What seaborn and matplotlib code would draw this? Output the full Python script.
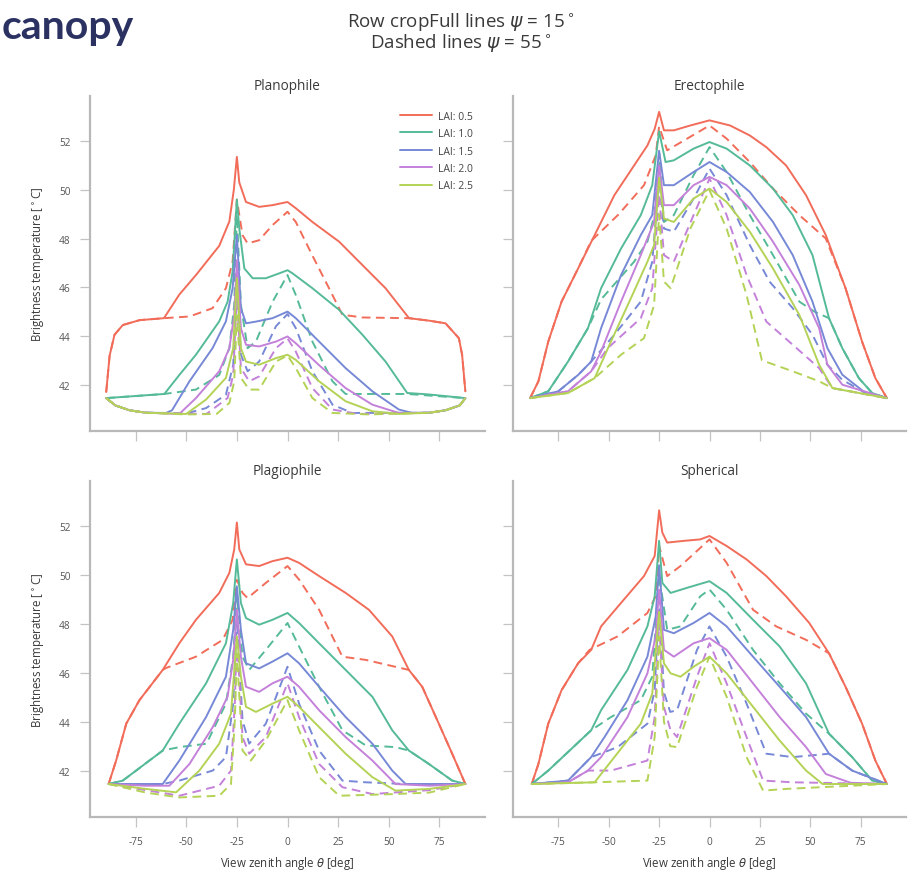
import matplotlib
matplotlib.use("Agg")
import matplotlib.pyplot as plt
from matplotlib.lines import Line2D
import pandas as pd
import seaborn as sns

# ---------------------------------------------------------------------------
# Labels and styling inputs
# ---------------------------------------------------------------------------
LAI_LEVELS = ["0.5", "1.0", "1.5", "2.0", "2.5"]
LAI_COLORS = ["#f26c5a", "#55ba98", "#7789d6", "#c481da", "#b4d356"]
PANEL_TITLES = ["Planophile", "Erectophile", "Plagiophile", "Spherical"]
X_TICKS = [-75, -50, -25, 0, 25, 50, 75]
Y_TICKS = [42, 44, 46, 48, 50, 52]

# ---------------------------------------------------------------------------
# Brightness temperature profiles: (view zenith angle [deg], temperature [°C])
# "full" = row azimuth psi 15°, "dash" = psi 55°
# ---------------------------------------------------------------------------
# Planophile
plano_full_05 = [(-89.5, 41.7), (-87.8, 43.2), (-85.4, 44.05), (-81.3, 44.45), (-73, 44.65), (-61, 44.73),
                 (-53.4, 45.7), (-45.2, 46.5), (-33.7, 47.7), (-28.7, 48.7), (-26.5, 50.0), (-25, 51.35),
                 (-23.8, 50.3), (-20.5, 49.5), (-14, 49.3), (-7.4, 49.37), (0, 49.5), (4, 49.25), (12.3, 48.68),
                 (25.5, 47.87), (37, 46.91), (48.4, 45.96), (60, 44.73), (69.8, 44.63), (78, 44.52),
                 (84.6, 43.91), (86.2, 43.23), (87.8, 41.73)]
plano_dash_05 = [(-89.5, 41.7), (-87.8, 43.2), (-85.4, 44.05), (-81.3, 44.45), (-73, 44.65), (-61, 44.73),
                 (-48.4, 44.8), (-37, 45.14), (-30.4, 45.96), (-27.1, 47.05), (-25, 49.6), (-22.2, 48.14),
                 (-19.7, 47.8), (-14, 47.93), (-7.4, 48.55), (0, 49.1), (4.1, 48.68), (12.3, 47.3),
                 (20.5, 45.96), (27.1, 44.87), (37, 44.76), (60, 44.73), (69.8, 44.63), (78, 44.52),
                 (84.6, 43.91), (86.2, 43.23), (87.8, 41.73)]
plano_full_10 = [(-89.5, 41.45), (-60.8, 41.62), (-53.4, 42.4), (-45.2, 43.23), (-33.7, 44.6), (-29.6, 45.4),
                 (-27.1, 46.64), (-25, 49.6), (-23.8, 48.41), (-21.3, 46.77), (-17.2, 46.37), (-10.7, 46.37),
                 (-4.1, 46.57), (0, 46.7), (2.5, 46.57), (12.3, 45.96), (25.5, 45.07), (37, 44.05),
                 (48.4, 42.95), (59.1, 41.66), (69.8, 41.6), (87.8, 41.45)]
plano_dash_10 = [(-89.5, 41.45), (-60.8, 41.62), (-45.2, 41.8), (-33.7, 42.4), (-28.7, 43.5), (-26.3, 45.27),
                 (-25, 48.96), (-23, 45.27), (-19.7, 43.5), (-15.6, 43.77), (-7.4, 45.4), (0, 46.5),
                 (4.1, 45.68), (12.3, 43.77), (22.2, 42.14), (28.7, 41.62), (59.1, 41.62), (87.8, 41.45)]
plano_full_15 = [(-89.5, 41.45), (-85, 41.15), (-78, 40.95), (-70, 40.85), (-60, 40.84), (-57, 40.95),
                 (-48.4, 42.14), (-37, 43.5), (-30.4, 44.6), (-27.1, 45.96), (-25, 48.14), (-23, 45.14),
                 (-20.5, 44.52), (-15.6, 44.59), (-7.4, 44.73), (0, 45.0), (4.1, 44.73), (15.6, 43.77),
                 (28.7, 42.68), (41.9, 41.73), (55, 40.98), (61.6, 40.84), (70, 40.85), (78, 40.95),
                 (85, 41.15), (87.8, 41.45)]
plano_dash_15 = [(-89.5, 41.45), (-85, 41.15), (-78, 40.95), (-70, 40.85), (-50, 40.82), (-40.2, 41.04),
                 (-30.4, 41.59), (-26.8, 42.82), (-25, 46.5), (-23, 43.23), (-19.7, 42.55), (-14, 42.95),
                 (-5.7, 44.4), (0, 44.9), (4.1, 44.32), (12.3, 42.55), (22.2, 41.18), (32, 40.84),
                 (70, 40.85), (78, 40.95), (85, 41.15), (87.8, 41.45)]
plano_full_20 = [(-89.5, 41.45), (-85, 41.15), (-78, 40.95), (-70, 40.85), (-53.4, 40.8), (-45.2, 41.45),
                 (-33.7, 42.55), (-28.7, 43.5), (-26.3, 44.86), (-25, 47.1), (-23, 44.32), (-20.5, 43.64),
                 (-14, 43.57), (-5.7, 43.77), (0, 43.98), (4.1, 43.7), (15.6, 42.8), (28.7, 41.86),
                 (41.9, 41.18), (55, 40.84), (70, 40.85), (78, 40.95), (85, 41.15), (87.8, 41.45)]
plano_dash_20 = [(-89.5, 41.45), (-85, 41.15), (-78, 40.95), (-70, 40.85), (-40, 40.8), (-29.6, 41.45),
                 (-26.8, 42.4), (-25, 45.7), (-23, 42.68), (-18.9, 42.14), (-14, 42.34), (-5.7, 43.5),
                 (0, 43.9), (4.1, 43.36), (12.3, 41.86), (22.2, 40.98), (35, 40.8), (70, 40.85),
                 (78, 40.95), (85, 41.15), (87.8, 41.45)]
plano_full_25 = [(-89.5, 41.45), (-85, 41.15), (-78, 40.95), (-70, 40.85), (-50, 40.8), (-40.2, 41.39),
                 (-30.4, 42.28), (-26.8, 43.5), (-25, 46.37), (-23, 43.5), (-20.5, 42.95), (-14, 42.82),
                 (-5.7, 43.09), (0, 43.23), (4.1, 43.02), (15.6, 42.14), (28.7, 41.32), (41.9, 40.91),
                 (55, 40.8), (70, 40.85), (78, 40.95), (85, 41.15), (87.8, 41.45)]
plano_dash_25 = [(-89.5, 41.45), (-85, 41.15), (-78, 40.95), (-70, 40.85), (-50, 40.78), (-35, 40.8),
                 (-28.7, 41.25), (-26.3, 42.14), (-25, 44.86), (-23, 42.28), (-18.9, 41.8), (-14, 41.8),
                 (-5.7, 42.95), (0, 43.2), (4.1, 42.68), (12.3, 41.45), (22.2, 40.84), (40, 40.78),
                 (70, 40.85), (78, 40.95), (85, 41.15), (87.8, 41.45)]

# Erectophile
erect_full_05 = [(-89, 41.45), (-84.9, 42.14), (-80, 43.77), (-73.4, 45.41), (-65.2, 46.77), (-57, 48.14),
                 (-47.2, 49.78), (-37.4, 51.0), (-30.8, 51.82), (-27.2, 52.5), (-25, 53.2), (-22.6, 52.44),
                 (-17.7, 52.44), (-9.5, 52.64), (0, 52.85), (10.2, 52.64), (20, 52.23), (28.2, 51.75),
                 (38, 51.0), (47.9, 49.78), (57.7, 48.14), (67.5, 45.96), (75.7, 43.77), (82.3, 42.27),
                 (88, 41.45)]
erect_dash_05 = [(-89, 41.45), (-84.9, 42.14), (-80, 43.77), (-73.4, 45.41), (-65.2, 46.77), (-58.7, 47.9),
                 (-45, 49.0), (-32.5, 50.19), (-26.7, 51.41), (-25, 52.6), (-21, 51.62), (-11.1, 52.1),
                 (0, 52.64), (8.5, 52.1), (20, 51.14), (31.5, 50.05), (44.6, 48.96), (57.7, 48.0),
                 (67.5, 45.96), (75.7, 43.77), (82.3, 42.27), (88, 41.45)]
erect_full_10 = [(-89, 41.45), (-80, 41.73), (-70.2, 42.95), (-60.3, 44.32), (-53.8, 45.96), (-43.9, 47.59),
                 (-34.1, 48.96), (-28.4, 50.19), (-25, 52.4), (-21.8, 51.14), (-17.7, 51.21), (-7.9, 51.69),
                 (0, 51.96), (8.5, 51.69), (20, 51.0), (31.5, 50.05), (41.3, 48.96), (51.1, 47.32),
                 (59.3, 44.73), (65.9, 43.5), (74.1, 42.27), (80.7, 41.66), (88, 41.45)]
erect_dash_10 = [(-89, 41.45), (-80, 41.73), (-70.2, 42.95), (-60.3, 44.32), (-53.8, 45.5), (-37.4, 47.05),
                 (-30.8, 47.87), (-27.2, 49.0), (-25, 51.5), (-22.6, 48.68), (-17.7, 48.96), (-7.9, 50.6),
                 (0, 51.75), (8.5, 50.73), (20, 48.96), (31.5, 47.32), (44.6, 45.41), (52, 45.0),
                 (59.3, 44.73), (65.9, 43.5), (74.1, 42.27), (80.7, 41.66), (88, 41.45)]
erect_full_15 = [(-89, 41.45), (-75, 41.73), (-65.2, 42.4), (-58.7, 42.95), (-53.8, 44.32), (-43.9, 46.5),
                 (-34.1, 48.14), (-28.4, 48.96), (-25, 51.6), (-22.6, 50.19), (-17.7, 50.19), (-7.9, 50.73),
                 (0, 51.14), (8.5, 50.73), (20, 49.91), (31.5, 48.68), (41.3, 47.32), (51.1, 45.41),
                 (58.5, 43.5), (65.9, 42.41), (77.4, 41.66), (88, 41.45)]
erect_dash_15 = [(-89, 41.45), (-75, 41.73), (-65.2, 42.4), (-58.7, 42.95), (-47.2, 44.05), (-34.1, 45.41),
                 (-28.4, 47.05), (-25, 50.5), (-22.6, 48.41), (-17.7, 48.28), (-7.9, 49.64), (0, 50.87),
                 (8.5, 49.78), (20, 47.73), (29.8, 46.23), (41.3, 45.14), (51.1, 44.05), (58.5, 42.82),
                 (65.9, 42.2), (77.4, 41.66), (88, 41.45)]
erect_full_20 = [(-89, 41.45), (-70.2, 41.73), (-58.7, 42.55), (-53.8, 43.36), (-43.9, 45.41), (-34.1, 47.32),
                 (-27.5, 48.68), (-25, 51.0), (-22.6, 49.37), (-17.7, 49.37), (-7.9, 50.19), (0, 50.53),
                 (8.5, 50.19), (20, 49.23), (31.5, 47.87), (44.6, 46.09), (54.4, 44.32), (58.5, 42.82),
                 (65.9, 42.0), (88, 41.45)]
erect_dash_20 = [(-89, 41.45), (-70.2, 41.73), (-58.7, 42.55), (-50.5, 43.5), (-34.1, 44.73), (-28.4, 45.96),
                 (-25, 49.8), (-22.6, 47.32), (-17.7, 47.05), (-7.9, 48.96), (0, 50.46), (8.5, 48.96),
                 (18.4, 46.5), (28.2, 44.59), (41.3, 43.64), (54.4, 42.68), (61, 41.86), (88, 41.45)]
erect_full_25 = [(-89, 41.45), (-70.2, 41.66), (-57, 42.27), (-48.9, 43.77), (-39, 45.55), (-30.8, 47.05),
                 (-27.5, 47.73), (-25, 50.5), (-22.6, 48.82), (-17.7, 48.68), (-7.9, 49.64), (0, 50.05),
                 (8.5, 49.5), (20, 48.28), (31.5, 46.77), (44.6, 44.86), (54.4, 42.82), (61, 41.86),
                 (88, 41.45)]
erect_dash_25 = [(-89, 41.45), (-70.2, 41.66), (-57, 42.27), (-43.9, 43.23), (-32.5, 43.91), (-27.5, 45.27),
                 (-25, 49.0), (-22.6, 46.23), (-19.3, 45.96), (-9.5, 48.41), (0, 49.98), (8.5, 48.41),
                 (18.4, 45.68), (26, 43.0), (41.3, 42.55), (54.4, 42.14), (61, 41.86), (88, 41.45)]

# Plagiophile
plagio_full_05 = [(-88.3, 41.45), (-84.6, 42.41), (-79.6, 43.92), (-73.1, 44.88), (-61.6, 46.12),
                  (-53.4, 47.21), (-45.2, 48.17), (-33.7, 49.27), (-28.7, 50.09), (-26.3, 51.05), (-25, 52.15),
                  (-23.8, 51.05), (-20.5, 50.44), (-14, 50.37), (-7.4, 50.57), (0, 50.71), (5.7, 50.5),
                  (15.6, 49.96), (28.7, 49.27), (40.2, 48.58), (51.7, 47.49), (59.9, 46.12), (66.5, 45.43),
                  (74.7, 43.92), (81.3, 42.69), (87.8, 41.45)]
plagio_dash_05 = [(-88.3, 41.45), (-84.6, 42.41), (-79.6, 43.92), (-73.1, 44.88), (-61.6, 46.12),
                  (-59.9, 46.2), (-45.2, 46.66), (-32, 47.35), (-27.1, 48.17), (-25, 49.8), (-22.2, 49.27),
                  (-19.7, 49.06), (-10.7, 49.68), (0, 50.37), (5.7, 49.82), (15.6, 48.58), (27.1, 46.66),
                  (38.6, 46.53), (56.7, 46.18), (59.9, 46.12), (66.5, 45.43), (74.7, 43.92), (81.3, 42.69),
                  (87.8, 41.45)]
plagio_full_10 = [(-88.3, 41.45), (-81.3, 41.59), (-61.6, 42.82), (-53.4, 43.92), (-40.2, 45.57),
                  (-30.4, 47.21), (-26.8, 48.86), (-25, 50.64), (-23, 48.86), (-20.5, 48.24), (-14, 47.97),
                  (-7.4, 48.17), (0, 48.45), (5.7, 48.04), (15.6, 47.21), (28.7, 46.12), (41.9, 45.02),
                  (51.7, 43.65), (59.9, 42.82), (69.8, 42.27), (81.3, 41.59), (87.8, 41.45)]
plagio_dash_10 = [(-88.3, 41.45), (-81.3, 41.59), (-61.6, 42.82), (-53.4, 42.96), (-40, 43.1), (-30.4, 44.74),
                  (-26.8, 46.66), (-25, 49.2), (-22.2, 46.66), (-18.9, 46.12), (-10.7, 46.94), (0, 48.04),
                  (5.7, 47.08), (15.6, 45.43), (27.1, 43.65), (38.6, 43.03), (53.3, 42.96), (59.9, 42.82),
                  (69.8, 42.27), (81.3, 41.59), (87.8, 41.45)]
plagio_full_15 = [(-88.3, 41.45), (-61.6, 41.45), (-53.4, 42.41), (-40.2, 44.19), (-30.4, 45.84),
                  (-26.8, 47.76), (-25, 49.54), (-23, 47.76), (-20.5, 46.39), (-14, 46.18), (-7.4, 46.46),
                  (0, 46.8), (5.7, 46.39), (15.6, 45.43), (28.7, 44.19), (41.9, 43.1), (51.7, 42.0),
                  (58.3, 41.45), (87.8, 41.45)]
plagio_dash_15 = [(-88.3, 41.45), (-61.6, 41.45), (-53.4, 41.59), (-36.9, 42.0), (-30.4, 42.55), (-26.8, 44.74),
                  (-25, 48.2), (-22.2, 44.06), (-18.9, 43.1), (-10.7, 43.92), (0, 46.25), (5.7, 44.74),
                  (15.6, 42.82), (27.1, 41.59), (38.6, 41.52), (58.3, 41.45), (87.8, 41.45)]
plagio_full_20 = [(-88.3, 41.45), (-70, 41.38), (-58.3, 41.38), (-48.4, 42.27), (-36.9, 43.78), (-29.6, 45.02),
                  (-26.8, 46.53), (-25, 48.58), (-23, 46.66), (-20.5, 45.43), (-14, 45.22), (-7.4, 45.57),
                  (0, 45.84), (5.7, 45.43), (15.6, 44.47), (28.7, 43.37), (41.9, 42.41), (53.3, 41.45),
                  (70, 41.38), (87.8, 41.45)]
plagio_dash_20 = [(-88.3, 41.45), (-70, 41.2), (-53.4, 40.97), (-33.7, 41.38), (-27.9, 42.0), (-26, 44.74),
                  (-25, 47.5), (-22.2, 43.37), (-18.9, 42.69), (-10.7, 43.37), (0, 45.57), (5.7, 44.19),
                  (15.6, 42.27), (27.1, 41.32), (41.9, 41.04), (70, 41.2), (87.8, 41.45)]
plagio_full_25 = [(-88.3, 41.45), (-70, 41.25), (-55, 41.11), (-43.5, 42.0), (-33.7, 43.1), (-27.9, 44.33),
                  (-25, 47.5), (-23, 45.84), (-20.5, 44.61), (-15.6, 44.4), (-7.4, 44.74), (0, 45.02),
                  (5.7, 44.61), (15.6, 43.78), (28.7, 42.69), (41.9, 41.73), (53.3, 41.18), (70, 41.25),
                  (87.8, 41.45)]
plagio_dash_25 = [(-88.3, 41.45), (-70, 41.1), (-53.4, 40.9), (-33.7, 40.97), (-27.9, 41.45), (-26, 44.06),
                  (-25, 46.8), (-22.2, 42.82), (-18.1, 42.41), (-10.7, 43.23), (0, 44.88), (5.7, 43.65),
                  (15.6, 41.73), (25.5, 40.97), (53.3, 41.04), (70, 41.1), (87.8, 41.45)]

# Spherical
sph_full_05 = [(-88.2, 41.45), (-84.9, 42.27), (-80, 43.92), (-73.4, 45.29), (-65.2, 46.39), (-58.7, 46.94),
               (-53.8, 47.9), (-43.9, 48.86), (-32.5, 49.96), (-27.2, 50.78), (-25, 52.65), (-23.4, 51.74),
               (-21, 51.33), (-12.8, 51.4), (-4.6, 51.46), (0, 51.6), (8.5, 51.19), (18.4, 50.64),
               (28.2, 49.96), (38, 49.13), (49.5, 48.04), (59.3, 46.8), (67.5, 45.43), (75.7, 43.92),
               (82.3, 42.41), (88, 41.45)]
sph_dash_05 = [(-88.2, 41.45), (-84.9, 42.27), (-80, 43.92), (-73.4, 45.29), (-65.2, 46.39), (-59.5, 46.94),
               (-45.6, 47.49), (-30.8, 48.45), (-26.7, 49.13), (-25, 51.2), (-21, 49.96), (-14.4, 50.37),
               (0, 51.46), (8.5, 50.5), (21.6, 48.58), (33.1, 47.9), (47.9, 47.35), (59.3, 46.8),
               (67.5, 45.43), (75.7, 43.92), (82.3, 42.41), (88, 41.45)]
sph_full_10 = [(-88.2, 41.45), (-80, 42.0), (-58.7, 43.65), (-53.8, 44.47), (-40.7, 46.12), (-30.8, 47.9),
               (-27.2, 49.13), (-25, 51.4), (-23.4, 49.68), (-19.3, 49.27), (-11.1, 49.48), (0, 49.75),
               (8.5, 49.27), (21.6, 48.17), (34.8, 47.08), (47.9, 45.57), (59.3, 43.51), (70.8, 42.55),
               (80.7, 41.59), (88, 41.45)]
sph_dash_10 = [(-88.2, 41.45), (-80, 42.0), (-58.7, 43.65), (-48.9, 44.19), (-34.1, 44.88), (-28.4, 45.84),
               (-25, 50.0), (-21, 47.76), (-14.4, 47.9), (-4.6, 49.13), (0, 49.41), (8.5, 48.58),
               (21.6, 46.94), (34.8, 45.57), (47.9, 44.33), (59.3, 43.51), (70.8, 42.55), (80.7, 41.59),
               (88, 41.45)]
sph_full_15 = [(-88.2, 41.45), (-70.2, 41.59), (-58.7, 42.55), (-52.1, 43.37), (-40.7, 44.88), (-30.8, 46.66),
               (-26.7, 48.31), (-25, 50.4), (-22.6, 47.76), (-17.7, 47.62), (-7.9, 48.04), (0, 48.45),
               (8.5, 47.9), (21.6, 46.66), (34.8, 45.43), (47.9, 44.19), (59.3, 42.69), (70.8, 42.0),
               (88, 41.45)]
sph_dash_15 = [(-88.2, 41.45), (-70.2, 41.59), (-58.7, 42.55), (-45.6, 42.96), (-30.8, 43.92), (-27.2, 45.29),
               (-25, 49.0), (-22.6, 45.2), (-19.5, 44.4), (-16.1, 44.47), (-6.2, 46.94), (0, 47.9), (8.5, 46.66),
               (18.4, 44.74), (28.2, 42.69), (41.3, 42.55), (59.3, 42.69), (70.8, 42.0), (88, 41.45)]
sph_full_20 = [(-88.2, 41.45), (-70.2, 41.52), (-60.3, 42.0), (-53.8, 42.55), (-40.7, 44.19), (-30.8, 45.98),
               (-26.7, 47.49), (-25, 49.4), (-22.6, 46.94), (-17.7, 46.66), (-7.9, 47.21), (0, 47.42),
               (8.5, 46.94), (21.6, 45.57), (34.8, 44.19), (47.9, 42.96), (57.7, 41.86), (70, 41.5),
               (88, 41.45)]
sph_dash_20 = [(-88.2, 41.45), (-70.2, 41.52), (-60.3, 42.0), (-48.9, 42.0), (-30.8, 42.41), (-27.2, 44.19),
               (-25, 48.0), (-22.6, 44.6), (-19.5, 43.7), (-16.1, 43.37), (-6.2, 45.84), (0, 47.21), (8.5, 45.57),
               (18.4, 43.37), (26.6, 41.59), (41.3, 41.52), (88, 41.45)]
sph_full_25 = [(-88.2, 41.45), (-57, 41.52), (-47.2, 42.55), (-34.1, 43.92), (-28.4, 45.15), (-25, 48.5),
               (-22.6, 46.39), (-19.3, 45.98), (-14.4, 45.84), (-7.9, 46.25), (0, 46.66), (8.5, 45.98),
               (21.6, 44.61), (34.8, 43.23), (47.9, 42.0), (56.1, 41.45), (88, 41.45)]
sph_dash_25 = [(-88.2, 41.45), (-57, 41.52), (-30.8, 41.59), (-27.2, 43.37), (-25, 47.5), (-22.6, 44.0),
               (-19.5, 43.0), (-16.1, 42.96), (-6.2, 45.43), (0, 46.66), (8.5, 45.02), (18.4, 42.55),
               (26.6, 41.18), (38, 41.25), (88, 41.45)]

PANEL_CURVES = {
    "Planophile": [(plano_full_05, plano_dash_05), (plano_full_10, plano_dash_10), (plano_full_15, plano_dash_15),
                   (plano_full_20, plano_dash_20), (plano_full_25, plano_dash_25)],
    "Erectophile": [(erect_full_05, erect_dash_05), (erect_full_10, erect_dash_10), (erect_full_15, erect_dash_15),
                    (erect_full_20, erect_dash_20), (erect_full_25, erect_dash_25)],
    "Plagiophile": [(plagio_full_05, plagio_dash_05), (plagio_full_10, plagio_dash_10),
                    (plagio_full_15, plagio_dash_15), (plagio_full_20, plagio_dash_20),
                    (plagio_full_25, plagio_dash_25)],
    "Spherical": [(sph_full_05, sph_dash_05), (sph_full_10, sph_dash_10), (sph_full_15, sph_dash_15),
                  (sph_full_20, sph_dash_20), (sph_full_25, sph_dash_25)],
}

# Long-form table for seaborn
rows = []
for panel, pairs in PANEL_CURVES.items():
    for lai, (full, dash) in zip(LAI_LEVELS, pairs):
        for kind, pts in (("full", full), ("dashed", dash)):
            for ang, temp in pts:
                rows.append({"panel": panel, "LAI": f"LAI: {lai}", "line": kind,
                             "angle": ang, "temp": temp})
df = pd.DataFrame(rows)

# ---------------------------------------------------------------------------
# Figure
# ---------------------------------------------------------------------------
sns.set_theme(style="ticks")
plt.rcParams["font.family"] = ["Open Sans", "DejaVu Sans"]
plt.rcParams["mathtext.fontset"] = "dejavusans"

W, H = 922, 879
fig = plt.figure(figsize=(W / 100, H / 100), dpi=100)

def box(l, t, r, b):
    return [l / W, 1 - b / H, (r - l) / W, (b - t) / H]

positions = [box(90, 97, 485, 432), box(513, 97, 906, 432),
             box(90, 482, 485, 818), box(513, 482, 906, 818)]

palette = dict(zip([f"LAI: {v}" for v in LAI_LEVELS], LAI_COLORS))
spine_col = "#b8b8b8"
text_col = "#3a3a3a"

axes = []
for i, (title, pos) in enumerate(zip(PANEL_TITLES, positions)):
    ax = fig.add_axes(pos)
    axes.append(ax)
    sub = df[df["panel"] == title]
    sns.lineplot(data=sub, x="angle", y="temp", hue="LAI", style="line",
                 palette=palette, hue_order=list(palette),
                 dashes={"full": "", "dashed": (4.5, 2.8)},
                 style_order=["full", "dashed"],
                 estimator=None, sort=True, linewidth=1.4, legend=False, ax=ax)
    ax.set_xlim(-97.5, 97.5)
    ax.set_ylim(40.1, 53.85)
    ax.set_xticks(X_TICKS)
    ax.set_yticks(Y_TICKS)
    ax.set_xticklabels([str(t) for t in X_TICKS])
    ax.set_yticklabels([str(t) for t in Y_TICKS])
    for side in ("top", "right"):
        ax.spines[side].set_visible(False)
    for side in ("left", "bottom"):
        ax.spines[side].set_color(spine_col)
        ax.spines[side].set_linewidth(1.6)
    ax.tick_params(direction="out", length=7, width=0.9, color="#c4c4c4",
                   labelsize=7.3, labelcolor="#555555", pad=7)
    ax.set_title(title, fontsize=9.8, color=text_col, pad=5)
    if i < 2:
        ax.tick_params(labelbottom=False)
        ax.set_xlabel("")
    else:
        ax.set_xlabel(r"View zenith angle $\theta$ [deg]", fontsize=8.3, color=text_col, labelpad=5)
    if i % 2 == 1:
        ax.tick_params(labelleft=False)
        ax.set_ylabel("")
    else:
        ax.set_ylabel(r"Brightness temperature [$^\circ$C]", fontsize=8.3, color=text_col, labelpad=9)

handles = [Line2D([], [], color=c, lw=1.4) for c in LAI_COLORS]
axes[0].legend(handles, list(palette), loc="upper right", bbox_to_anchor=(0.985, 0.975),
               frameon=False, fontsize=7.5, handlelength=3.0, handletextpad=0.6,
               labelspacing=0.62, labelcolor="#444444", borderaxespad=0.2)

fig.text(0.5, 1 - 22 / H, r"Row cropFull lines $\psi$ = 15$^\circ$", ha="center", va="center",
         fontsize=13.5, color=text_col)
fig.text(0.5, 1 - 43 / H, r"Dashed lines $\psi$ = 55$^\circ$", ha="center", va="center",
         fontsize=13.5, color=text_col)
fig.text(0.002, 1 - 39 / H, "canopy", ha="left", va="baseline", fontsize=29.5,
         fontweight="bold", color="#2b3262", family=["Lato", "DejaVu Sans"])

fig.savefig("out.png", dpi=100)
